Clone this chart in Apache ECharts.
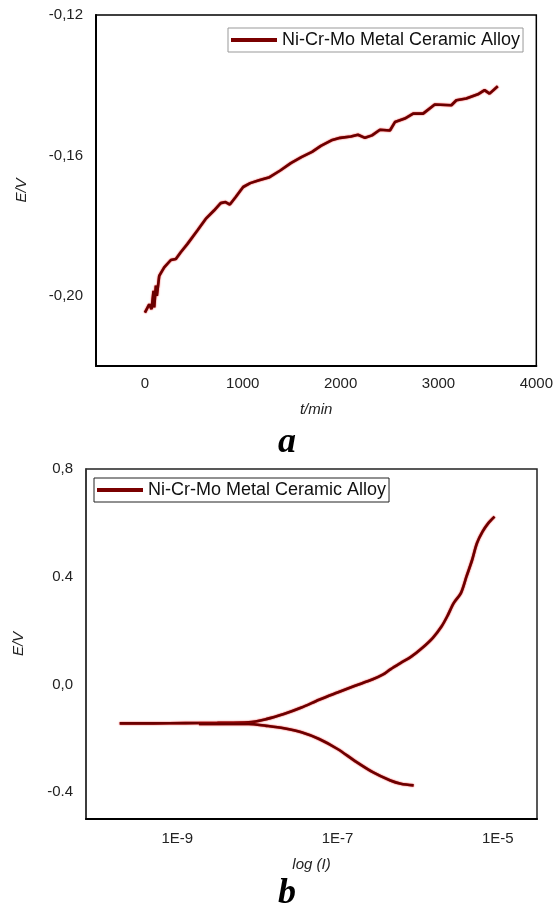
<!DOCTYPE html>
<html>
<head>
    <meta charset="utf-8">
    <script src="https://cdn.jsdelivr.net/npm/echarts@6/dist/echarts.min.js"></script>
    <style>
        html, body { margin: 0; padding: 0; background: #fff; }
        #main { width: 556px; height: 913px; }
    </style>
</head>

<body>
    <div id="main"></div>

    <script type="text/javascript">
        var seriesName = 'Ni-Cr-Mo Metal Ceramic Alloy';

        // (a) open circuit potential vs time
        var aTime = [0, 44, 68, 88, 95, 112, 122, 146, 197, 265, 316, 366, 435, 536, 621, 706, 774, 824, 868, 926,
            977, 1004, 1076, 1166, 1274, 1383, 1491, 1599, 1708, 1798, 1906, 1996, 2105, 2177, 2249, 2321,
            2402, 2504, 2555, 2656, 2741, 2843, 2962, 3132, 3183, 3284, 3403, 3471, 3522, 3606];
        var aPotential = [-0.2048, -0.2024, -0.2038, -0.1986, -0.2033, -0.1971, -0.2000, -0.1943, -0.1919, -0.1898,
            -0.1895, -0.1876, -0.1852, -0.1814, -0.1781, -0.1757, -0.1736, -0.1733, -0.1740, -0.1719,
            -0.1700, -0.1690, -0.1679, -0.1671, -0.1662, -0.1643, -0.1622, -0.1605, -0.1590, -0.1573,
            -0.1557, -0.1550, -0.1546, -0.1541, -0.1550, -0.1543, -0.1527, -0.1529, -0.1505, -0.1495,
            -0.1481, -0.1481, -0.1455, -0.1457, -0.1443, -0.1438, -0.1426, -0.1414, -0.1424, -0.1403];
        var aXTicks = [0, 1000, 2000, 3000, 4000];
        var aYTicks = [-0.20, -0.16, -0.12];
        var aYLabels = ['-0,20', '-0,16', '-0,12'];

        // (b) polarisation curve, x = log10(I)
        var bAnodicLogI = [-9.72, -9.3, -8.9, -8.5, -8.11, -7.89, -7.67, -7.45, -7.23, -7.0, -6.79, -6.56, -6.43,
            -6.34, -6.21, -6.08, -5.94, -5.81, -5.70, -5.63, -5.55, -5.46, -5.39, -5.32, -5.26, -5.19, -5.12, -5.04];
        var bAnodicE = [-0.145, -0.145, -0.144, -0.143, -0.141, -0.129, -0.110, -0.086, -0.057, -0.030, -0.006, 0.019, 0.037,
            0.056, 0.080, 0.103, 0.136, 0.173, 0.216, 0.253, 0.302, 0.339, 0.401, 0.462, 0.524, 0.567, 0.598, 0.623];
        var bCathodicLogI = [-8.73, -8.4, -8.11, -7.89, -7.67, -7.45, -7.23, -7.0, -6.79, -6.56, -6.34, -6.21, -6.05];
        var bCathodicE = [-0.147, -0.147, -0.147, -0.154, -0.163, -0.178, -0.203, -0.240, -0.283, -0.326, -0.357, -0.369, -0.375];
        var bXTicks = [-9, -7, -5];
        var bYTicks = [-0.4, 0, 0.4, 0.8];
        var bYLabels = ['-0.4', '0,0', '0.4', '0,8'];

        function pairs(xs, ys) {
            return xs.map(function (x, i) { return [x, ys[i]]; });
        }

        function pickLabel(ticks, labels) {
            return function (v) {
                var i = ticks.findIndex(function (t) { return Math.abs(t - v) < 1e-6; });
                return i >= 0 ? labels[i] : '';
            };
        }

        var font = 'Liberation Sans';
        var lineStyle = {
            color: '#6a0000',
            width: 2.6,
            shadowColor: 'rgba(230,0,0,1)',
            shadowBlur: 1.5
        };
        var labelStyle = { color: '#222', fontFamily: font, fontSize: 15 };
        var nameStyle = { color: '#222', fontFamily: font, fontSize: 15, fontStyle: 'italic' };
        var legendBase = {
            orient: 'horizontal',
            icon: 'rect',
            itemWidth: 46,
            itemHeight: 4,
            itemStyle: { color: '#7a0000' },
            textStyle: { color: '#111', fontFamily: font, fontSize: 18, lineHeight: 20 },
            padding: [2, 3, 2, 3],
            data: [seriesName]
        };

        var myChart = echarts.init(document.getElementById('main'), null, { renderer: 'canvas' });

        myChart.setOption({
            animation: false,
            backgroundColor: '#fff',
            grid: [
                { left: 96, top: 15, right: 19, bottom: 547, show: true, borderColor: '#000', borderWidth: 1.5 },
                { left: 86, top: 469, right: 19, bottom: 94, show: true, borderColor: '#222', borderWidth: 1.5 }
            ],
            legend: [
                Object.assign({}, legendBase, { left: 228, top: 28, borderColor: '#999', borderWidth: 1 }),
                Object.assign({}, legendBase, { left: 94, top: 478, borderColor: '#222', borderWidth: 1 })
            ],
            xAxis: [
                {
                    gridIndex: 0, type: 'value', min: -500, max: 4000,
                    name: 't/min', nameLocation: 'middle', nameGap: 36, nameTextStyle: nameStyle,
                    axisLine: { onZero: false, lineStyle: { color: '#000', width: 2 } },
                    axisTick: { show: false },
                    splitLine: { show: false },
                    axisLabel: Object.assign({
                        margin: 10, customValues: aXTicks,
                        formatter: function (v) { return String(v); }
                    }, labelStyle)
                },
                {
                    gridIndex: 1, type: 'value', min: -10.14, max: -4.51,
                    name: 'log (I)', nameLocation: 'middle', nameGap: 38, nameTextStyle: nameStyle,
                    axisLine: { onZero: false, lineStyle: { color: '#000', width: 2 } },
                    axisTick: { show: false },
                    splitLine: { show: false },
                    axisLabel: Object.assign({
                        margin: 12, customValues: bXTicks,
                        formatter: function (v) { return '1E' + Math.round(v); }
                    }, labelStyle)
                }
            ],
            yAxis: [
                {
                    gridIndex: 0, type: 'value', min: -0.22, max: -0.12,
                    name: 'E/V', nameLocation: 'middle', nameRotate: 90, nameGap: 67, nameTextStyle: nameStyle,
                    axisLine: { show: true, onZero: false, lineStyle: { color: '#000', width: 2 } },
                    axisTick: { show: false },
                    splitLine: { show: false },
                    axisLabel: Object.assign({
                        margin: 13, customValues: aYTicks,
                        formatter: pickLabel(aYTicks, aYLabels)
                    }, labelStyle)
                },
                {
                    gridIndex: 1, type: 'value', min: -0.5, max: 0.8,
                    name: 'E/V', nameLocation: 'middle', nameRotate: 90, nameGap: 60, nameTextStyle: nameStyle,
                    axisLine: { show: true, onZero: false, lineStyle: { color: '#333', width: 1.5 } },
                    axisTick: { show: false },
                    splitLine: { show: false },
                    axisLabel: Object.assign({
                        margin: 13, customValues: bYTicks,
                        formatter: pickLabel(bYTicks, bYLabels)
                    }, labelStyle)
                }
            ],
            graphic: [
                {
                    type: 'text', left: 278, top: 425,
                    style: { text: 'a', fill: '#000', font: 'italic bold 36px "Liberation Serif"' }
                },
                {
                    type: 'text', left: 278, top: 876,
                    style: { text: 'b', fill: '#000', font: 'italic bold 36px "Liberation Serif"' }
                }
            ],
            series: [
                {
                    name: seriesName, type: 'line', xAxisIndex: 0, yAxisIndex: 0,
                    showSymbol: false, symbol: 'none',
                    lineStyle: lineStyle,
                    data: pairs(aTime, aPotential)
                },
                {
                    name: seriesName, type: 'line', xAxisIndex: 1, yAxisIndex: 1,
                    showSymbol: false, symbol: 'none', smooth: 0.3,
                    lineStyle: lineStyle,
                    data: pairs(bAnodicLogI, bAnodicE)
                },
                {
                    name: seriesName, type: 'line', xAxisIndex: 1, yAxisIndex: 1,
                    showSymbol: false, symbol: 'none', smooth: 0.3,
                    lineStyle: lineStyle,
                    data: pairs(bCathodicLogI, bCathodicE)
                }
            ]
        });
    </script>
</body>

</html>
